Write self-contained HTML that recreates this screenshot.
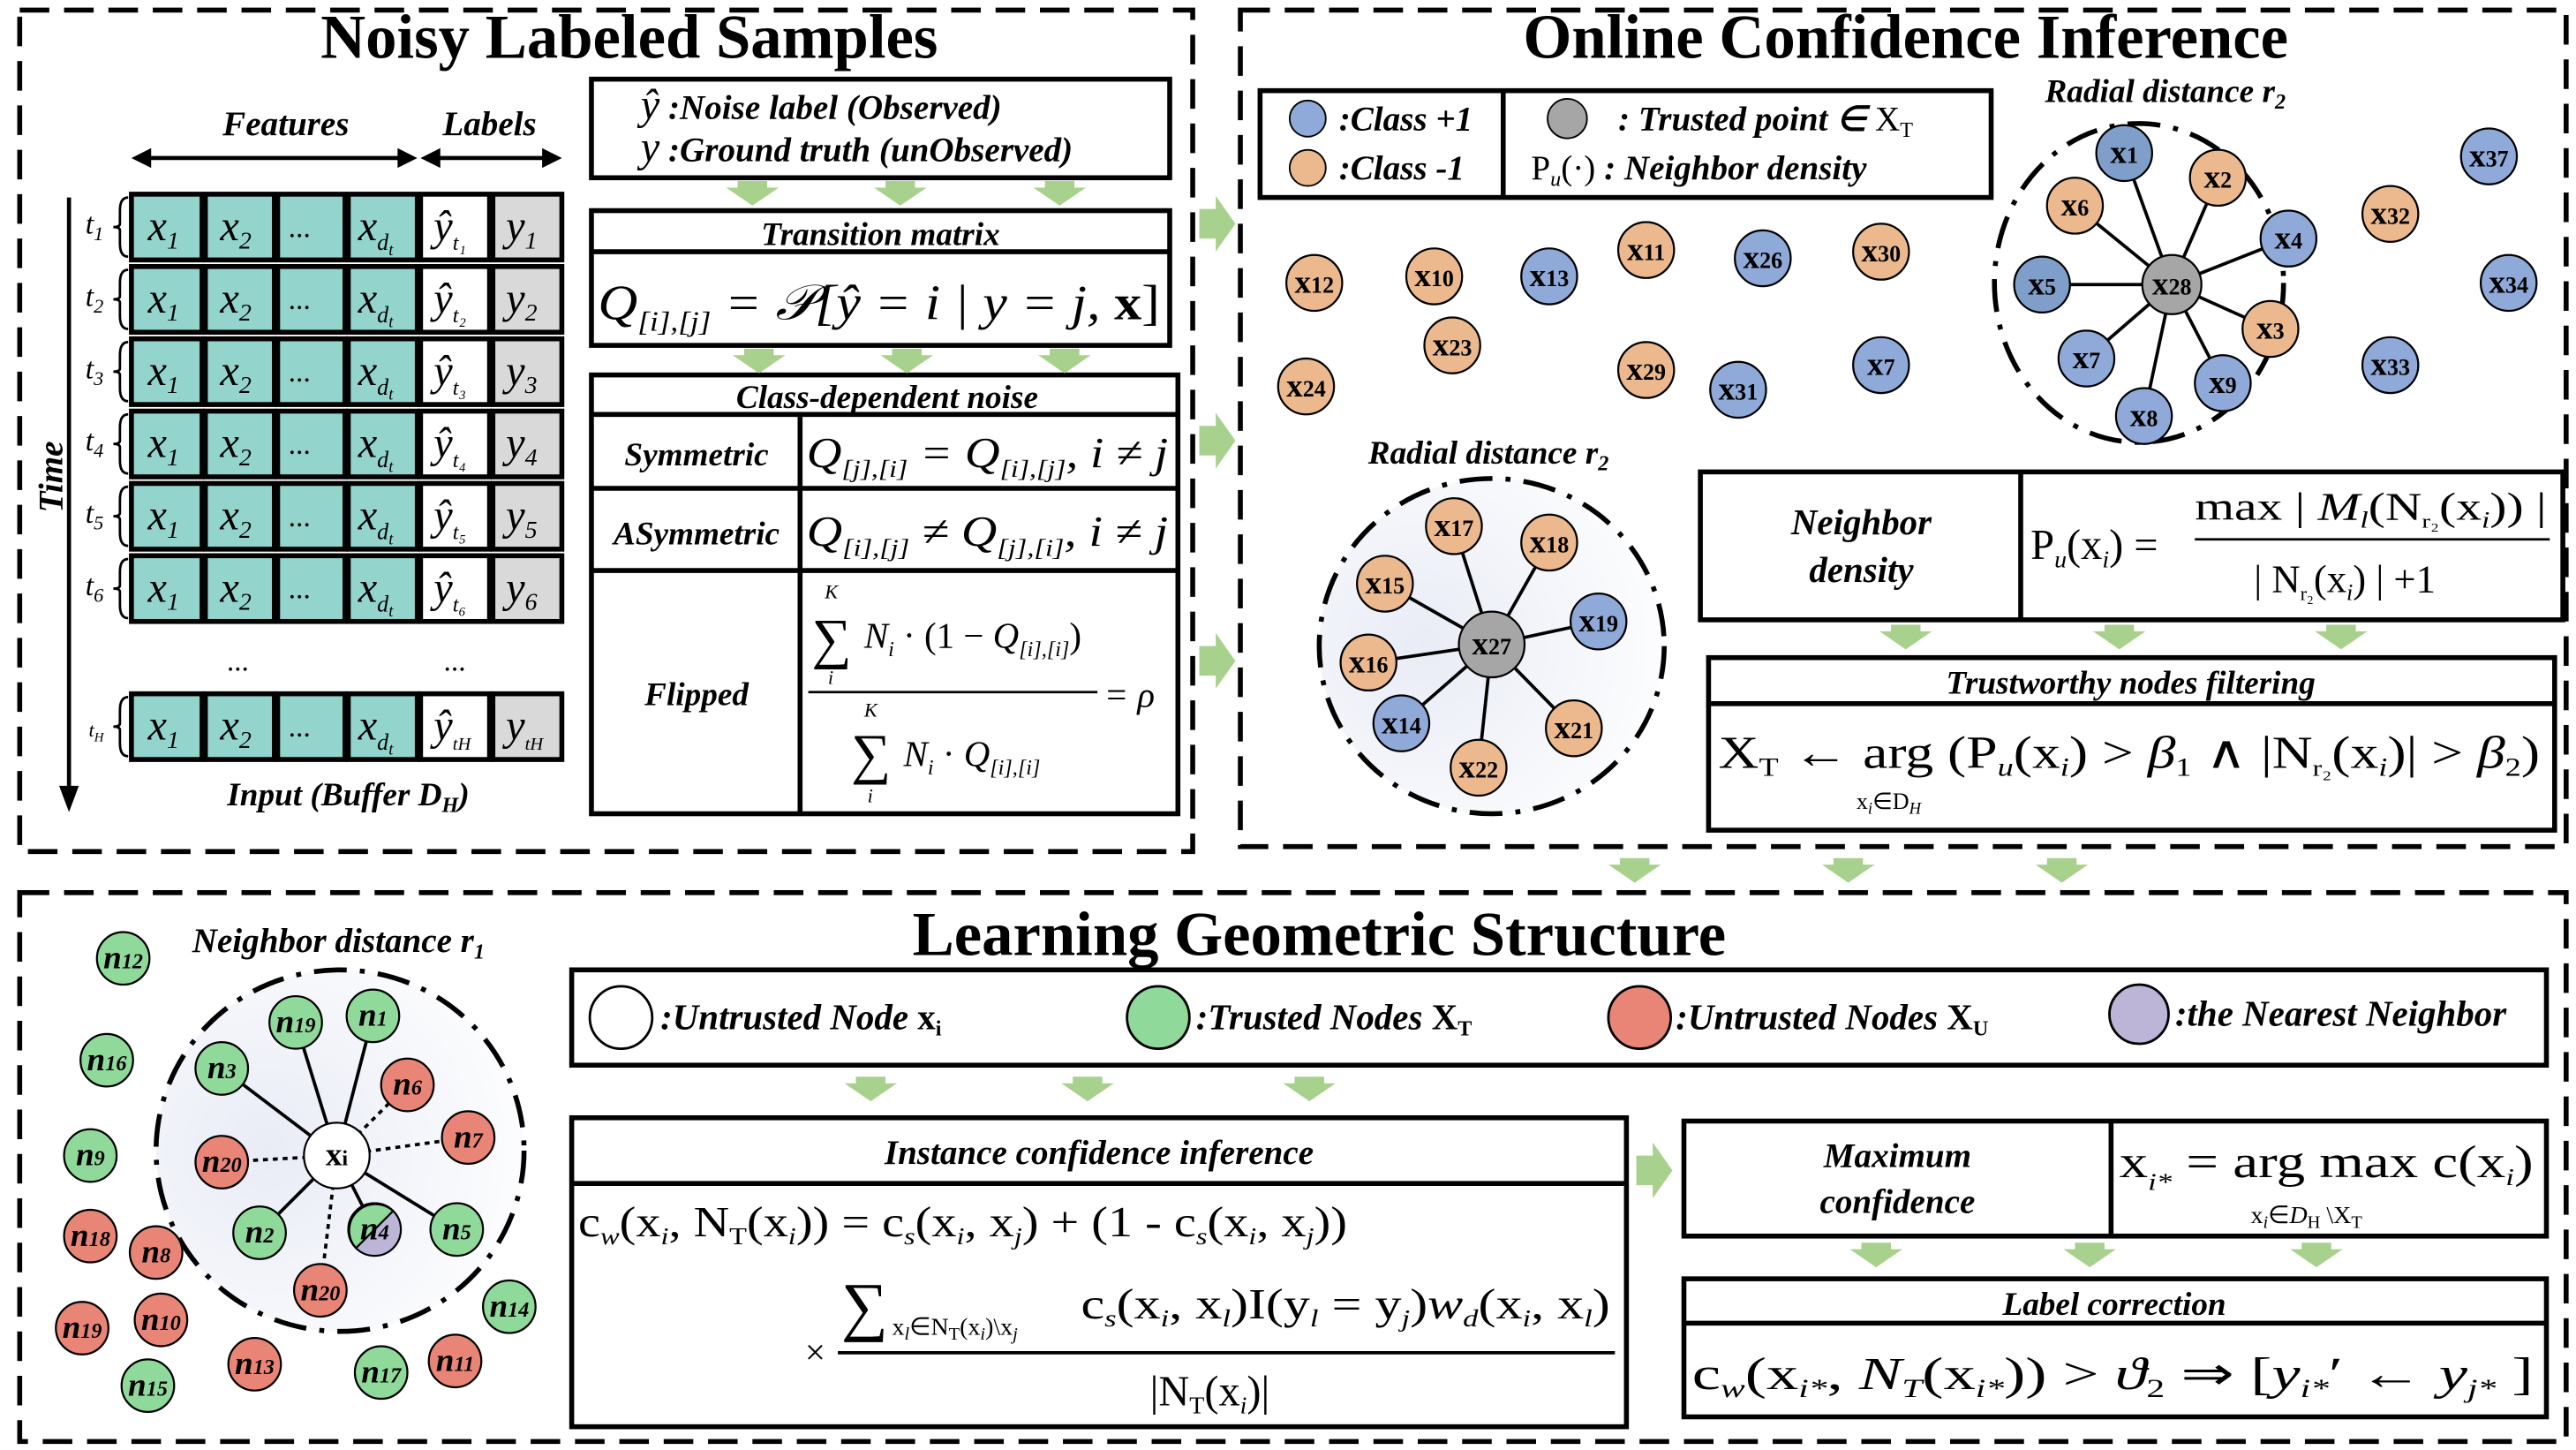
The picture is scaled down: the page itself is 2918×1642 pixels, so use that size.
<!DOCTYPE html>
<html><head><meta charset="utf-8"><style>
html,body{margin:0;padding:0;background:#fff}
svg{display:block}
text{font-family:"Liberation Serif",serif}
.bi{font-weight:bold;font-style:italic}
.b{font-weight:bold}
.i{font-style:italic}
.nd text{font-weight:bold;font-size:20px;text-anchor:middle}
</style></head><body>
<svg width="2918" height="1642" viewBox="0 0 1568 882" xmlns="http://www.w3.org/2000/svg">
<defs>
<radialGradient id="g1" cx="0.3" cy="0.5" r="0.8"><stop offset="0" stop-color="#e9ecf6"/><stop offset="1" stop-color="#fff"/></radialGradient>
<g id="ad"><polygon points="-9,0 9,0 9,4 16,4 0,15 -16,4 -9,4" fill="#a9d18e"/></g>
<g id="ar"><polygon points="0,-9 0,9 10,9 10,17 22,0 10,-17 10,-9" fill="#a9d18e"/></g>
</defs>
<g fill="none" stroke="#000" stroke-width="3" stroke-dasharray="18,9">
<rect x="12" y="6" width="714" height="512"/>
<rect x="755" y="6" width="807" height="509"/>
<rect x="12" y="543" width="1550" height="334"/>
</g>
<text x="383" y="35" font-size="38" class="b" text-anchor="middle">Noisy Labeled Samples</text>
<text x="1160" y="35" font-size="38" class="b" text-anchor="middle">Online Confidence Inference</text>
<text x="803" y="581" font-size="38" class="b" text-anchor="middle">Learning Geometric Structure</text>

<!-- Table -->
<text x="174" y="82" font-size="21" class="bi" text-anchor="middle">Features</text>
<text x="298" y="82" font-size="21" class="bi" text-anchor="middle">Labels</text>
<g stroke="#000" stroke-width="2.5"><line x1="86" y1="96" x2="248" y2="96"/><line x1="262" y1="96" x2="336" y2="96"/><line x1="42" y1="120" x2="42" y2="484"/></g>
<polygon points="80,96 92,90 92,102"/><polygon points="254,96 242,90 242,102"/><polygon points="256,96 268,90 268,102"/><polygon points="342,96 330,90 330,102"/>
<polygon points="42,494 36,478 48,478"/>
<text transform="translate(38,290) rotate(-90)" font-size="21" class="bi" text-anchor="middle">Time</text>
<g stroke="#000" stroke-width="3">
<g id="row">
<rect x="80" y="118" width="43" height="40" fill="#93d5cd"/><rect x="125" y="118" width="42" height="40" fill="#93d5cd"/><rect x="169" y="118" width="41" height="40" fill="#93d5cd"/><rect x="212" y="118" width="42" height="40" fill="#93d5cd"/><rect x="256" y="118" width="42" height="40" fill="#fff"/><rect x="300" y="118" width="42" height="40" fill="#d9d9d9"/>
</g>
<use href="#row" y="44"/><use href="#row" y="88"/><use href="#row" y="132"/><use href="#row" y="176"/><use href="#row" y="220"/><use href="#row" y="304"/>
</g>
<g fill="none" stroke="#000" stroke-width="1.5">
<path d="M78,120 q-5,0 -5,8 v8 q0,2 -4,2 q4,0 4,2 v8 q0,8 5,8"/>
<path d="M78,164 q-5,0 -5,8 v8 q0,2 -4,2 q4,0 4,2 v8 q0,8 5,8"/>
<path d="M78,208 q-5,0 -5,8 v8 q0,2 -4,2 q4,0 4,2 v8 q0,8 5,8"/>
<path d="M78,252 q-5,0 -5,8 v8 q0,2 -4,2 q4,0 4,2 v8 q0,8 5,8"/>
<path d="M78,296 q-5,0 -5,8 v8 q0,2 -4,2 q4,0 4,2 v8 q0,8 5,8"/>
<path d="M78,340 q-5,0 -5,8 v8 q0,2 -4,2 q4,0 4,2 v8 q0,8 5,8"/>
<path d="M78,424 q-5,0 -5,8 v8 q0,2 -4,2 q4,0 4,2 v8 q0,8 5,8"/>
</g>
<g font-size="18" class="i">
<text x="52" y="142">t<tspan font-size="12" dy="4">1</tspan></text>
<text x="52" y="186">t<tspan font-size="12" dy="4">2</tspan></text>
<text x="52" y="230">t<tspan font-size="12" dy="4">3</tspan></text>
<text x="52" y="274">t<tspan font-size="12" dy="4">4</tspan></text>
<text x="52" y="318">t<tspan font-size="12" dy="4">5</tspan></text>
<text x="52" y="362">t<tspan font-size="12" dy="4">6</tspan></text>
<text x="54" y="448" font-size="12">t<tspan font-size="8" dy="3">H</tspan></text>
</g>
<g font-size="26" class="i">
<text x="90" y="146">x<tspan font-size="15" dy="5">1</tspan></text><text x="134" y="146">x<tspan font-size="15" dy="5">2</tspan></text><text x="176" y="144" font-size="18">...</text><text x="218" y="146">x<tspan font-size="14" dy="6">d<tspan font-size="10" dy="3">t</tspan></tspan></text><text x="264" y="146">ŷ<tspan font-size="13" dy="6">t₁</tspan></text><text x="308" y="146">y<tspan font-size="15" dy="5">1</tspan></text>
<text x="90" y="190">x<tspan font-size="15" dy="5">1</tspan></text><text x="134" y="190">x<tspan font-size="15" dy="5">2</tspan></text><text x="176" y="188" font-size="18">...</text><text x="218" y="190">x<tspan font-size="14" dy="6">d<tspan font-size="10" dy="3">t</tspan></tspan></text><text x="264" y="190">ŷ<tspan font-size="13" dy="6">t₂</tspan></text><text x="308" y="190">y<tspan font-size="15" dy="5">2</tspan></text>
<text x="90" y="234">x<tspan font-size="15" dy="5">1</tspan></text><text x="134" y="234">x<tspan font-size="15" dy="5">2</tspan></text><text x="176" y="232" font-size="18">...</text><text x="218" y="234">x<tspan font-size="14" dy="6">d<tspan font-size="10" dy="3">t</tspan></tspan></text><text x="264" y="234">ŷ<tspan font-size="13" dy="6">t₃</tspan></text><text x="308" y="234">y<tspan font-size="15" dy="5">3</tspan></text>
<text x="90" y="278">x<tspan font-size="15" dy="5">1</tspan></text><text x="134" y="278">x<tspan font-size="15" dy="5">2</tspan></text><text x="176" y="276" font-size="18">...</text><text x="218" y="278">x<tspan font-size="14" dy="6">d<tspan font-size="10" dy="3">t</tspan></tspan></text><text x="264" y="278">ŷ<tspan font-size="13" dy="6">t₄</tspan></text><text x="308" y="278">y<tspan font-size="15" dy="5">4</tspan></text>
<text x="90" y="322">x<tspan font-size="15" dy="5">1</tspan></text><text x="134" y="322">x<tspan font-size="15" dy="5">2</tspan></text><text x="176" y="320" font-size="18">...</text><text x="218" y="322">x<tspan font-size="14" dy="6">d<tspan font-size="10" dy="3">t</tspan></tspan></text><text x="264" y="322">ŷ<tspan font-size="13" dy="6">t₅</tspan></text><text x="308" y="322">y<tspan font-size="15" dy="5">5</tspan></text>
<text x="90" y="366">x<tspan font-size="15" dy="5">1</tspan></text><text x="134" y="366">x<tspan font-size="15" dy="5">2</tspan></text><text x="176" y="364" font-size="18">...</text><text x="218" y="366">x<tspan font-size="14" dy="6">d<tspan font-size="10" dy="3">t</tspan></tspan></text><text x="264" y="366">ŷ<tspan font-size="13" dy="6">t₆</tspan></text><text x="308" y="366">y<tspan font-size="15" dy="5">6</tspan></text>
<text x="90" y="450">x<tspan font-size="15" dy="5">1</tspan></text><text x="134" y="450">x<tspan font-size="15" dy="5">2</tspan></text><text x="176" y="448" font-size="18">...</text><text x="218" y="450">x<tspan font-size="14" dy="6">d<tspan font-size="10" dy="3">t</tspan></tspan></text><text x="264" y="450">ŷ<tspan font-size="11" dy="6">tH</tspan></text><text x="308" y="450">y<tspan font-size="11" dy="6">tH</tspan></text>
</g>
<text x="138" y="408" font-size="18">...</text><text x="270" y="408" font-size="18">...</text>
<text x="212" y="490" font-size="20" class="bi" text-anchor="middle">Input (Buffer D<tspan font-size="13" dy="4">H</tspan><tspan dy="-4">)</tspan></text>

<!-- middle boxes -->
<g fill="none" stroke="#000" stroke-width="3">
<rect x="360" y="48" width="352" height="60"/>
<rect x="360" y="128" width="352" height="82"/><line x1="360" y1="153" x2="712" y2="153"/>
<rect x="360" y="228" width="357" height="267"/><line x1="360" y1="252" x2="717" y2="252"/><line x1="360" y1="297" x2="717" y2="297"/><line x1="360" y1="347" x2="717" y2="347"/><line x1="487" y1="252" x2="487" y2="495"/>
</g>
<text x="390" y="72" font-size="22" class="i"><tspan font-size="26">ŷ</tspan><tspan class="bi" font-size="21"> :Noise label (Observed)</tspan></text>
<text x="390" y="98" font-size="22" class="i"><tspan font-size="26">y</tspan><tspan class="bi" font-size="21"> :Ground truth (unObserved)</tspan></text>
<use href="#ad" x="458" y="110"/><use href="#ad" x="548" y="110"/><use href="#ad" x="645" y="110"/>
<text x="536" y="149" font-size="20" class="bi" text-anchor="middle">Transition matrix</text>
<text x="364" y="194" font-size="30" class="i" textLength="342" lengthAdjust="spacingAndGlyphs">Q<tspan font-size="17" dy="7">[i],[j]</tspan><tspan dy="-7"> = </tspan><tspan>𝒫[ŷ = i | y = j, </tspan><tspan class="b" font-style="normal">x</tspan><tspan font-style="normal">]</tspan></text>
<use href="#ad" x="462" y="212"/><use href="#ad" x="552" y="212"/><use href="#ad" x="648" y="212"/>
<text x="540" y="248" font-size="20" class="bi" text-anchor="middle">Class-dependent noise</text>
<text x="424" y="283" font-size="20" class="bi" text-anchor="middle">Symmetric</text>
<text x="424" y="331" font-size="20" class="bi" text-anchor="middle">ASymmetric</text>
<text x="424" y="429" font-size="20" class="bi" text-anchor="middle">Flipped</text>
<text x="491" y="284" font-size="26" class="i" textLength="220" lengthAdjust="spacingAndGlyphs">Q<tspan font-size="15" dy="6">[j],[i]</tspan><tspan dy="-6"> = Q</tspan><tspan font-size="15" dy="6">[i],[j]</tspan><tspan dy="-6">, i ≠ j</tspan></text>
<text x="491" y="332" font-size="26" class="i" textLength="220" lengthAdjust="spacingAndGlyphs">Q<tspan font-size="15" dy="6">[i],[j]</tspan><tspan dy="-6"> ≠ Q</tspan><tspan font-size="15" dy="6">[j],[i]</tspan><tspan dy="-6">, i ≠ j</tspan></text>
<text x="494" y="400" font-size="34">∑</text><text x="502" y="364" font-size="12" class="i">K</text><text x="504" y="416" font-size="12" class="i">i</text>
<text x="526" y="394" font-size="22" class="i">N<tspan font-size="13" dy="5">i</tspan><tspan dy="-5" font-style="normal"> · (1 − </tspan>Q<tspan font-size="13" dy="5">[i],[i]</tspan><tspan dy="-5" font-style="normal">)</tspan></text>
<line x1="492" y1="421" x2="668" y2="421" stroke="#000" stroke-width="1.5"/>
<text x="672" y="430" font-size="22" class="i">= ρ</text>
<text x="518" y="470" font-size="34">∑</text><text x="526" y="436" font-size="12" class="i">K</text><text x="528" y="488" font-size="12" class="i">i</text>
<text x="550" y="466" font-size="22" class="i">N<tspan font-size="13" dy="5">i</tspan><tspan dy="-5" font-style="normal"> · </tspan>Q<tspan font-size="13" dy="5">[i],[i]</tspan></text>

<use href="#ar" x="730" y="136"/><use href="#ar" x="730" y="268"/><use href="#ar" x="730" y="402"/>

<!-- top right legend -->
<g fill="none" stroke="#000" stroke-width="3"><rect x="767" y="55" width="445" height="65"/><line x1="915" y1="55" x2="915" y2="120"/></g>
<circle cx="796" cy="72" r="11" fill="#8fa9d8" stroke="#000"/><circle cx="796" cy="102" r="11" fill="#ebb98d" stroke="#000"/>
<text x="815" y="79" font-size="21" class="bi">:Class +1</text><text x="815" y="109" font-size="21" class="bi">:Class  -1</text>
<circle cx="954" cy="72" r="12" fill="#a6a6a6" stroke="#000"/>
<text x="985" y="79" font-size="21" class="bi">: Trusted point ∈ <tspan font-style="normal" font-weight="normal">X<tspan font-size="13" dy="4">T</tspan></tspan></text>
<text x="932" y="109" font-size="21" class="bi"><tspan font-weight="normal" font-style="normal">P<tspan font-size="13" dy="4" class="i">u</tspan><tspan dy="-4">(·)</tspan></tspan> : Neighbor density</text>
<text x="1318" y="62" font-size="20" class="bi" text-anchor="middle">Radial distance r<tspan font-size="13" dy="4">2</tspan></text>
<text x="906" y="282" font-size="20" class="bi" text-anchor="middle">Radial distance r<tspan font-size="13" dy="4">2</tspan></text>

<ellipse cx="1302" cy="172" rx="88" ry="97" fill="none" stroke="#000" stroke-width="3" stroke-dasharray="20,8,3,8"/>
<ellipse cx="908" cy="393" rx="105" ry="102" fill="url(#g1)" stroke="#000" stroke-width="3" stroke-dasharray="20,8,3,8"/>
<g stroke="#000" stroke-width="2">
<line x1="1322" y1="173" x2="1293" y2="93"/><line x1="1322" y1="173" x2="1350" y2="108"/><line x1="1322" y1="173" x2="1263" y2="125"/><line x1="1322" y1="173" x2="1393" y2="145"/><line x1="1322" y1="173" x2="1243" y2="173"/><line x1="1322" y1="173" x2="1382" y2="200"/><line x1="1322" y1="173" x2="1270" y2="218"/><line x1="1322" y1="173" x2="1353" y2="233"/><line x1="1322" y1="173" x2="1305" y2="253"/>
<line x1="908" y1="392" x2="885" y2="320"/><line x1="908" y1="392" x2="943" y2="330"/><line x1="908" y1="392" x2="843" y2="355"/><line x1="908" y1="392" x2="973" y2="378"/><line x1="908" y1="392" x2="833" y2="403"/><line x1="908" y1="392" x2="853" y2="440"/><line x1="908" y1="392" x2="958" y2="443"/><line x1="908" y1="392" x2="900" y2="467"/>
</g>
<g class="nd" stroke="#000" stroke-width="1.2">
<g><circle cx="800" cy="172" r="17" fill="#ebb98d"/><text x="800" y="178" stroke="none">x<tspan font-size="14">12</tspan></text></g>
<g><circle cx="873" cy="168" r="17" fill="#ebb98d"/><text x="873" y="174" stroke="none">x<tspan font-size="14">10</tspan></text></g>
<g><circle cx="943" cy="168" r="17" fill="#8fa9d8"/><text x="943" y="174" stroke="none">x<tspan font-size="14">13</tspan></text></g>
<g><circle cx="1002" cy="152" r="17" fill="#ebb98d"/><text x="1002" y="158" stroke="none">x<tspan font-size="14">11</tspan></text></g>
<g><circle cx="1073" cy="157" r="17" fill="#8fa9d8"/><text x="1073" y="163" stroke="none">x<tspan font-size="14">26</tspan></text></g>
<g><circle cx="1145" cy="153" r="17" fill="#ebb98d"/><text x="1145" y="159" stroke="none">x<tspan font-size="14">30</tspan></text></g>
<g><circle cx="884" cy="210" r="17" fill="#ebb98d"/><text x="884" y="216" stroke="none">x<tspan font-size="14">23</tspan></text></g>
<g><circle cx="795" cy="235" r="17" fill="#ebb98d"/><text x="795" y="241" stroke="none">x<tspan font-size="14">24</tspan></text></g>
<g><circle cx="1002" cy="225" r="17" fill="#ebb98d"/><text x="1002" y="231" stroke="none">x<tspan font-size="14">29</tspan></text></g>
<g><circle cx="1058" cy="237" r="17" fill="#8fa9d8"/><text x="1058" y="243" stroke="none">x<tspan font-size="14">31</tspan></text></g>
<g><circle cx="1145" cy="222" r="17" fill="#8fa9d8"/><text x="1145" y="228" stroke="none">x<tspan font-size="14">7</tspan></text></g>
<g><circle cx="1515" cy="95" r="17" fill="#8fa9d8"/><text x="1515" y="101" stroke="none">x<tspan font-size="14">37</tspan></text></g>
<g><circle cx="1455" cy="130" r="17" fill="#ebb98d"/><text x="1455" y="136" stroke="none">x<tspan font-size="14">32</tspan></text></g>
<g><circle cx="1527" cy="172" r="17" fill="#8fa9d8"/><text x="1527" y="178" stroke="none">x<tspan font-size="14">34</tspan></text></g>
<g><circle cx="1455" cy="222" r="17" fill="#8fa9d8"/><text x="1455" y="228" stroke="none">x<tspan font-size="14">33</tspan></text></g>
<g><circle cx="1293" cy="93" r="17" fill="#7f9fca"/><text x="1293" y="99" stroke="none">x<tspan font-size="14">1</tspan></text></g>
<g><circle cx="1350" cy="108" r="17" fill="#ebb98d"/><text x="1350" y="114" stroke="none">x<tspan font-size="14">2</tspan></text></g>
<g><circle cx="1263" cy="125" r="17" fill="#ebb98d"/><text x="1263" y="131" stroke="none">x<tspan font-size="14">6</tspan></text></g>
<g><circle cx="1393" cy="145" r="17" fill="#8fa9d8"/><text x="1393" y="151" stroke="none">x<tspan font-size="14">4</tspan></text></g>
<g><circle cx="1243" cy="173" r="17" fill="#7f9fca"/><text x="1243" y="179" stroke="none">x<tspan font-size="14">5</tspan></text></g>
<g><circle cx="1382" cy="200" r="17" fill="#ebb98d"/><text x="1382" y="206" stroke="none">x<tspan font-size="14">3</tspan></text></g>
<g><circle cx="1270" cy="218" r="17" fill="#8fa9d8"/><text x="1270" y="224" stroke="none">x<tspan font-size="14">7</tspan></text></g>
<g><circle cx="1353" cy="233" r="17" fill="#8fa9d8"/><text x="1353" y="239" stroke="none">x<tspan font-size="14">9</tspan></text></g>
<g><circle cx="1305" cy="253" r="17" fill="#8fa9d8"/><text x="1305" y="259" stroke="none">x<tspan font-size="14">8</tspan></text></g>
<g><circle cx="1322" cy="173" r="18" fill="#a6a6a6"/><text x="1322" y="179" stroke="none">x<tspan font-size="14">28</tspan></text></g>
<g><circle cx="885" cy="320" r="17" fill="#ebb98d"/><text x="885" y="326" stroke="none">x<tspan font-size="14">17</tspan></text></g>
<g><circle cx="943" cy="330" r="17" fill="#ebb98d"/><text x="943" y="336" stroke="none">x<tspan font-size="14">18</tspan></text></g>
<g><circle cx="843" cy="355" r="17" fill="#ebb98d"/><text x="843" y="361" stroke="none">x<tspan font-size="14">15</tspan></text></g>
<g><circle cx="973" cy="378" r="17" fill="#8fa9d8"/><text x="973" y="384" stroke="none">x<tspan font-size="14">19</tspan></text></g>
<g><circle cx="833" cy="403" r="17" fill="#ebb98d"/><text x="833" y="409" stroke="none">x<tspan font-size="14">16</tspan></text></g>
<g><circle cx="853" cy="440" r="17" fill="#8fa9d8"/><text x="853" y="446" stroke="none">x<tspan font-size="14">14</tspan></text></g>
<g><circle cx="958" cy="443" r="17" fill="#ebb98d"/><text x="958" y="449" stroke="none">x<tspan font-size="14">21</tspan></text></g>
<g><circle cx="900" cy="467" r="17" fill="#ebb98d"/><text x="900" y="473" stroke="none">x<tspan font-size="14">22</tspan></text></g>
<g><circle cx="908" cy="392" r="20" fill="#a6a6a6"/><text x="908" y="398" stroke="none">x<tspan font-size="14">27</tspan></text></g>
</g>

<!-- neighbor density -->
<g fill="none" stroke="#000" stroke-width="3"><rect x="1035" y="287" width="525" height="90"/><line x1="1230" y1="287" x2="1230" y2="377"/>
<rect x="1040" y="400" width="515" height="105"/><line x1="1040" y1="428" x2="1555" y2="428"/></g>
<text x="1133" y="325" font-size="22" class="bi" text-anchor="middle">Neighbor</text>
<text x="1133" y="354" font-size="22" class="bi" text-anchor="middle">density</text>
<text x="1236" y="340" font-size="26">P<tspan font-size="15" dy="5" class="i">u</tspan><tspan dy="-5">(x</tspan><tspan font-size="15" dy="5" class="i">i</tspan><tspan dy="-5">) =</tspan></text>
<text x="1336" y="316" font-size="24" textLength="214" lengthAdjust="spacingAndGlyphs">max | <tspan class="i">M</tspan><tspan font-size="14" dy="5" class="i">l</tspan><tspan dy="-5">(N</tspan><tspan font-size="12" dy="5">r₂</tspan><tspan dy="-5">(x</tspan><tspan font-size="14" dy="5" class="i">i</tspan><tspan dy="-5">)) |</tspan></text>
<line x1="1336" y1="328" x2="1552" y2="328" stroke="#000" stroke-width="1.5"/>
<text x="1372" y="360" font-size="24">| N<tspan font-size="12" dy="5">r₂</tspan><tspan dy="-5">(x</tspan><tspan font-size="14" dy="5" class="i">i</tspan><tspan dy="-5">) | +1</tspan></text>
<use href="#ad" x="1160" y="380"/><use href="#ad" x="1290" y="380"/><use href="#ad" x="1425" y="380"/>
<text x="1297" y="422" font-size="20" class="bi" text-anchor="middle">Trustworthy nodes filtering</text>
<text x="1046" y="467" font-size="28" textLength="500" lengthAdjust="spacingAndGlyphs">X<tspan font-size="16" dy="5">T</tspan><tspan dy="-5"> ← arg (P</tspan><tspan font-size="16" dy="5" class="i">u</tspan><tspan dy="-5">(x</tspan><tspan font-size="16" dy="5" class="i">i</tspan><tspan dy="-5">) &gt; </tspan><tspan class="i">β</tspan><tspan font-size="16" dy="5">1</tspan><tspan dy="-5"> ∧ |N</tspan><tspan font-size="14" dy="5">r₂</tspan><tspan dy="-5">(x</tspan><tspan font-size="16" dy="5" class="i">i</tspan><tspan dy="-5">)| &gt; </tspan><tspan class="i">β</tspan><tspan font-size="16" dy="5">2</tspan><tspan dy="-5">)</tspan></text>
<text x="1130" y="492" font-size="14">x<tspan font-size="10" dy="3" class="i">i</tspan><tspan dy="-3">∈D</tspan><tspan font-size="10" dy="3" class="i">H</tspan></text>
<use href="#ad" x="995" y="522"/><use href="#ad" x="1125" y="522"/><use href="#ad" x="1255" y="522"/>

<!-- bottom left cluster -->
<ellipse cx="207" cy="700" rx="112" ry="110" fill="url(#g1)" stroke="#000" stroke-width="3" stroke-dasharray="20,8,3,8"/>
<text x="206" y="579" font-size="21" class="bi" text-anchor="middle">Neighbor distance r<tspan font-size="13" dy="4">1</tspan></text>
<g stroke="#000" stroke-width="2">
<line x1="205" y1="703" x2="180" y2="622"/><line x1="205" y1="703" x2="227" y2="618"/><line x1="205" y1="703" x2="135" y2="650"/><line x1="205" y1="703" x2="158" y2="750"/><line x1="205" y1="703" x2="228" y2="748"/><line x1="205" y1="703" x2="278" y2="748"/>
</g>
<g stroke="#000" stroke-width="2" stroke-dasharray="3,3">
<line x1="205" y1="703" x2="248" y2="660"/><line x1="205" y1="703" x2="285" y2="692"/><line x1="205" y1="703" x2="135" y2="707"/><line x1="205" y1="703" x2="195" y2="785"/>
</g>
<g class="nd" stroke="#000" stroke-width="1.2">
<g><circle cx="180" cy="622" r="16" fill="#8fd99a"/><text x="180" y="628" stroke="none" font-style="italic">n<tspan font-size="13">19</tspan></text></g>
<g><circle cx="227" cy="618" r="16" fill="#8fd99a"/><text x="227" y="624" stroke="none" font-style="italic">n<tspan font-size="13">1</tspan></text></g>
<g><circle cx="135" cy="650" r="16" fill="#8fd99a"/><text x="135" y="656" stroke="none" font-style="italic">n<tspan font-size="13">3</tspan></text></g>
<g><circle cx="248" cy="660" r="16" fill="#e98576"/><text x="248" y="666" stroke="none" font-style="italic">n<tspan font-size="13">6</tspan></text></g>
<g><circle cx="285" cy="692" r="16" fill="#e98576"/><text x="285" y="698" stroke="none" font-style="italic">n<tspan font-size="13">7</tspan></text></g>
<g><circle cx="135" cy="707" r="16" fill="#e98576"/><text x="135" y="713" stroke="none" font-style="italic">n<tspan font-size="13">20</tspan></text></g>
<g><circle cx="158" cy="750" r="16" fill="#8fd99a"/><text x="158" y="756" stroke="none" font-style="italic">n<tspan font-size="13">2</tspan></text></g>
<g><circle cx="228" cy="748" r="16" fill="#bdb5d8"/><path d="M216.7,759.3 A16,16 0 0 1 239.3,736.7 Z" fill="#8fd99a"/><text x="228" y="754" stroke="none" font-style="italic">n<tspan font-size="13">4</tspan></text></g>
<g><circle cx="278" cy="748" r="16" fill="#8fd99a"/><text x="278" y="754" stroke="none" font-style="italic">n<tspan font-size="13">5</tspan></text></g>
<g><circle cx="195" cy="785" r="16" fill="#e98576"/><text x="195" y="791" stroke="none" font-style="italic">n<tspan font-size="13">20</tspan></text></g>
<g><circle cx="205" cy="703" r="20" fill="#fff"/><text x="205" y="709" stroke="none">x<tspan font-size="13">i</tspan></text></g>
<g><circle cx="75" cy="583" r="16" fill="#8fd99a"/><text x="75" y="589" stroke="none" font-style="italic">n<tspan font-size="13">12</tspan></text></g>
<g><circle cx="65" cy="645" r="16" fill="#8fd99a"/><text x="65" y="651" stroke="none" font-style="italic">n<tspan font-size="13">16</tspan></text></g>
<g><circle cx="55" cy="703" r="16" fill="#8fd99a"/><text x="55" y="709" stroke="none" font-style="italic">n<tspan font-size="13">9</tspan></text></g>
<g><circle cx="55" cy="752" r="16" fill="#e98576"/><text x="55" y="758" stroke="none" font-style="italic">n<tspan font-size="13">18</tspan></text></g>
<g><circle cx="95" cy="762" r="16" fill="#e98576"/><text x="95" y="768" stroke="none" font-style="italic">n<tspan font-size="13">8</tspan></text></g>
<g><circle cx="50" cy="808" r="16" fill="#e98576"/><text x="50" y="814" stroke="none" font-style="italic">n<tspan font-size="13">19</tspan></text></g>
<g><circle cx="98" cy="803" r="16" fill="#e98576"/><text x="98" y="809" stroke="none" font-style="italic">n<tspan font-size="13">10</tspan></text></g>
<g><circle cx="90" cy="843" r="16" fill="#8fd99a"/><text x="90" y="849" stroke="none" font-style="italic">n<tspan font-size="13">15</tspan></text></g>
<g><circle cx="155" cy="830" r="16" fill="#e98576"/><text x="155" y="836" stroke="none" font-style="italic">n<tspan font-size="13">13</tspan></text></g>
<g><circle cx="232" cy="835" r="16" fill="#8fd99a"/><text x="232" y="841" stroke="none" font-style="italic">n<tspan font-size="13">17</tspan></text></g>
<g><circle cx="277" cy="828" r="16" fill="#e98576"/><text x="277" y="834" stroke="none" font-style="italic">n<tspan font-size="13">11</tspan></text></g>
<g><circle cx="310" cy="795" r="16" fill="#8fd99a"/><text x="310" y="801" stroke="none" font-style="italic">n<tspan font-size="13">14</tspan></text></g>
</g>

<!-- bottom legend -->
<rect x="348" y="590" width="1202" height="58" fill="none" stroke="#000" stroke-width="3"/>
<circle cx="378" cy="619" r="19" fill="#fff" stroke="#000" stroke-width="1.5"/>
<text x="402" y="626" font-size="22" class="bi">:Untrusted Node <tspan font-style="normal">x<tspan font-size="13" dy="4">i</tspan></tspan></text>
<circle cx="705" cy="619" r="19" fill="#8fd99a" stroke="#000" stroke-width="1.5"/>
<text x="728" y="626" font-size="22" class="bi">:Trusted Nodes <tspan font-style="normal">X<tspan font-size="13" dy="4">T</tspan></tspan></text>
<circle cx="998" cy="619" r="19" fill="#e98576" stroke="#000" stroke-width="1.5"/>
<text x="1020" y="626" font-size="22" class="bi">:Untrusted Nodes <tspan font-style="normal">X<tspan font-size="13" dy="4">U</tspan></tspan></text>
<circle cx="1302" cy="617" r="18" fill="#bdb5d8" stroke="#000" stroke-width="1.5"/>
<text x="1324" y="624" font-size="22" class="bi">:the Nearest Neighbor</text>
<use href="#ad" x="530" y="655"/><use href="#ad" x="662" y="655"/><use href="#ad" x="797" y="655"/>

<!-- instance confidence -->
<g fill="none" stroke="#000" stroke-width="3"><rect x="348" y="680" width="642" height="188"/><line x1="348" y1="720" x2="990" y2="720"/>
<rect x="1025" y="682" width="525" height="70"/><line x1="1285" y1="682" x2="1285" y2="752"/>
<rect x="1025" y="778" width="525" height="84"/><line x1="1025" y1="805" x2="1550" y2="805"/></g>
<text x="669" y="708" font-size="21" class="bi" text-anchor="middle">Instance confidence inference</text>
<text x="352" y="752" font-size="26" textLength="468" lengthAdjust="spacingAndGlyphs">c<tspan font-size="15" dy="5" class="i">w</tspan><tspan dy="-5">(x</tspan><tspan font-size="15" dy="5" class="i">i</tspan><tspan dy="-5">, N</tspan><tspan font-size="15" dy="5">T</tspan><tspan dy="-5">(x</tspan><tspan font-size="15" dy="5" class="i">i</tspan><tspan dy="-5">)) = c</tspan><tspan font-size="15" dy="5" class="i">s</tspan><tspan dy="-5">(x</tspan><tspan font-size="15" dy="5" class="i">i</tspan><tspan dy="-5">, x</tspan><tspan font-size="15" dy="5" class="i">j</tspan><tspan dy="-5">) + (1 - c</tspan><tspan font-size="15" dy="5" class="i">s</tspan><tspan dy="-5">(x</tspan><tspan font-size="15" dy="5" class="i">i</tspan><tspan dy="-5">, x</tspan><tspan font-size="15" dy="5" class="i">j</tspan><tspan dy="-5">))</tspan></text>
<text x="490" y="830" font-size="22">×</text>
<text x="512" y="808" font-size="40">∑</text>
<text x="543" y="812" font-size="15">x<tspan font-size="11" dy="3" class="i">l</tspan><tspan dy="-3">∈N</tspan><tspan font-size="11" dy="3">T</tspan><tspan dy="-3">(x</tspan><tspan font-size="11" dy="3" class="i">i</tspan><tspan dy="-3">)\x</tspan><tspan font-size="11" dy="3" class="i">j</tspan></text>
<text x="658" y="802" font-size="26" textLength="322" lengthAdjust="spacingAndGlyphs">c<tspan font-size="15" dy="5" class="i">s</tspan><tspan dy="-5">(x</tspan><tspan font-size="15" dy="5" class="i">i</tspan><tspan dy="-5">, x</tspan><tspan font-size="15" dy="5" class="i">l</tspan><tspan dy="-5">)I(y</tspan><tspan font-size="15" dy="5" class="i">l</tspan><tspan dy="-5"> = y</tspan><tspan font-size="15" dy="5" class="i">j</tspan><tspan dy="-5">)</tspan><tspan class="i">w</tspan><tspan font-size="15" dy="5" class="i">d</tspan><tspan dy="-5">(x</tspan><tspan font-size="15" dy="5" class="i">i</tspan><tspan dy="-5">, x</tspan><tspan font-size="15" dy="5" class="i">l</tspan><tspan dy="-5">)</tspan></text>
<line x1="510" y1="823" x2="983" y2="823" stroke="#000" stroke-width="2"/>
<text x="700" y="855" font-size="26">|N<tspan font-size="15" dy="5">T</tspan><tspan dy="-5">(x</tspan><tspan font-size="15" dy="5" class="i">i</tspan><tspan dy="-5">)|</tspan></text>
<use href="#ar" x="996" y="712"/>
<text x="1155" y="710" font-size="21" class="bi" text-anchor="middle">Maximum</text>
<text x="1155" y="738" font-size="21" class="bi" text-anchor="middle">confidence</text>
<text x="1290" y="716" font-size="28" textLength="252" lengthAdjust="spacingAndGlyphs">x<tspan font-size="15" dy="8" class="i">i*</tspan><tspan dy="-8"> = arg max  c(x</tspan><tspan font-size="15" dy="5" class="i">i</tspan><tspan dy="-5">)</tspan></text>
<text x="1370" y="744" font-size="15">x<tspan font-size="11" dy="3" class="i">i</tspan><tspan dy="-3">∈</tspan><tspan class="i">D</tspan><tspan font-size="11" dy="3">H</tspan><tspan dy="-3"> \X</tspan><tspan font-size="11" dy="3">T</tspan></text>
<use href="#ad" x="1142" y="756"/><use href="#ad" x="1272" y="756"/><use href="#ad" x="1410" y="756"/>
<text x="1287" y="800" font-size="20" class="bi" text-anchor="middle">Label correction</text>
<text x="1030" y="845" font-size="28" textLength="512" lengthAdjust="spacingAndGlyphs">c<tspan font-size="16" dy="5" class="i">w</tspan><tspan dy="-5">(x</tspan><tspan font-size="16" dy="5" class="i">i*</tspan><tspan dy="-5">, </tspan><tspan class="i">N</tspan><tspan font-size="16" dy="5" class="i">T</tspan><tspan dy="-5">(x</tspan><tspan font-size="16" dy="5" class="i">i*</tspan><tspan dy="-5">)) &gt; </tspan><tspan class="i">ϑ</tspan><tspan font-size="16" dy="5">2</tspan><tspan dy="-5"> ⇒ [</tspan><tspan class="i">y</tspan><tspan font-size="16" dy="5" class="i">i*</tspan><tspan dy="-5">′ ← </tspan><tspan class="i">y</tspan><tspan font-size="16" dy="5" class="i">j*</tspan><tspan dy="-5"> ]</tspan></text>
</svg>
</body></html>
